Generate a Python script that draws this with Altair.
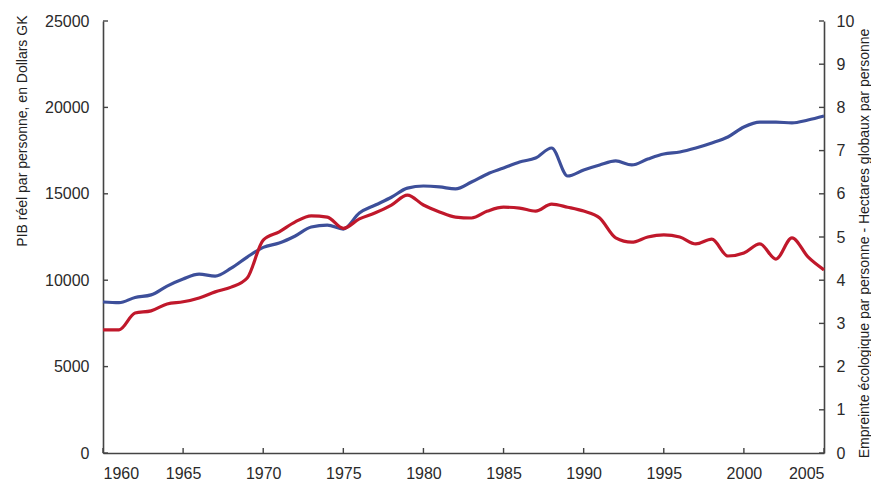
import altair as alt
import pandas as pd

years = list(range(1960, 2006))
pib = [8740, 8700, 9000, 9150, 9660, 10070, 10350, 10240, 10700, 11340,
       11900, 12150, 12560, 13080, 13190, 12960, 13890, 14350, 14800, 15330,
       15450, 15400, 15280, 15680, 16150, 16490, 16840, 17070, 17650, 16030,
       16380, 16670, 16900, 16670, 17010, 17300, 17420, 17650, 17940, 18290,
       18870, 19150, 19150, 19100, 19270, 19500]
empreinte = [2.85, 2.85, 3.24, 3.29, 3.45, 3.50, 3.59, 3.73, 3.84, 4.05,
             4.93, 5.12, 5.35, 5.49, 5.46, 5.20, 5.42, 5.56, 5.74, 5.97,
             5.74, 5.58, 5.46, 5.44, 5.60, 5.69, 5.67, 5.60, 5.76, 5.69,
             5.60, 5.44, 4.98, 4.88, 5.00, 5.05, 5.00, 4.84, 4.95, 4.56,
             4.63, 4.84, 4.49, 4.98, 4.54, 4.24]

x_ticks = [1960, 1965, 1970, 1975, 1980, 1985, 1990, 1995, 2000, 2005]
left_ticks = [0, 5000, 10000, 15000, 20000, 25000]
right_ticks = [0, 1, 2, 3, 4, 5, 6, 7, 8, 9, 10]

df = pd.DataFrame({"annee": years, "pib": pib, "emp": empreinte})
lt = pd.DataFrame({"pib": left_ticks})
rt = pd.DataFrame({"emp": right_ticks})
xt = pd.DataFrame({"annee": x_ticks})

W, H = 721, 432
FONT = "Liberation Sans"
AXC = "#444444"
LBL = "#2a2a2a"
BLUE = "#3d4f9a"
RED = "#c0182b"

xscale = alt.Scale(domain=[1960, 2005], nice=False, zero=False)
xaxis = alt.Axis(values=x_ticks, format="d", ticks=False, grid=False,
                 domainColor=AXC, domainWidth=1.6, labelFont=FONT,
                 labelFontSize=16, labelColor=LBL, labelPadding=12,
                 title=None)
lscale = alt.Scale(domain=[0, 25000], nice=False)
laxis = alt.Axis(values=left_ticks, format="d", orient="left", ticks=False, grid=False,
                 domainColor=AXC, domainWidth=1.6, labelFont=FONT,
                 labelFontSize=16, labelColor=LBL, labelPadding=14,
                 title="PIB réel par personne, en Dollars GK",
                 titleFont=FONT, titleFontSize=14, titleFontWeight="normal",
                 titleColor="#222222", titleAngle=270, titleAlign="right",
                 titleBaseline="middle", titleX=-81, titleY=-6)
rscale = alt.Scale(domain=[0, 10], nice=False)
raxis = alt.Axis(values=right_ticks, format="d", orient="right", ticks=False, grid=False,
                 domainColor=AXC, domainWidth=1.6, labelFont=FONT,
                 labelFontSize=16, labelColor=LBL, labelPadding=12,
                 title="Empreinte écologique par personne - Hectares globaux par personne",
                 titleFont=FONT, titleFontSize=14, titleFontWeight="normal",
                 titleColor="#222222", titleAngle=270, titleAlign="center",
                 titleBaseline="middle", titleX=40, titleY=222)

X = alt.X("annee:Q", scale=xscale, axis=xaxis)

blue = alt.Chart(df).mark_line(color=BLUE, strokeWidth=3.2, interpolate="monotone").encode(
    x=X, y=alt.Y("pib:Q", scale=lscale, axis=laxis))
lticks = alt.Chart(lt).mark_rule(color=AXC, strokeWidth=1.4).encode(
    y=alt.Y("pib:Q", scale=lscale, axis=laxis),
    x=alt.value(0), x2=alt.value(5))
xticks = alt.Chart(xt).mark_rule(color=AXC, strokeWidth=1.4).encode(
    x=X, y=alt.value(H), y2=alt.value(H - 5))

red = alt.Chart(df).mark_line(color=RED, strokeWidth=3.2, interpolate="monotone").encode(
    x=X, y=alt.Y("emp:Q", scale=rscale, axis=raxis))
rticks = alt.Chart(rt).mark_rule(color=AXC, strokeWidth=1.4).encode(
    y=alt.Y("emp:Q", scale=rscale, axis=raxis),
    x=alt.value(W), x2=alt.value(W - 5))

left_layer = alt.layer(blue, lticks, xticks)
right_layer = alt.layer(red, rticks)

chart = alt.layer(left_layer, right_layer).resolve_scale(y="independent").properties(
    width=W, height=H,
    autosize=alt.AutoSizeParams(type="none"),
    padding={"left": 95, "top": 13, "right": 47, "bottom": 28},
    background="white",
).configure_view(stroke=None)

chart.save("out.html", embed_options={"renderer": "svg", "actions": False})
